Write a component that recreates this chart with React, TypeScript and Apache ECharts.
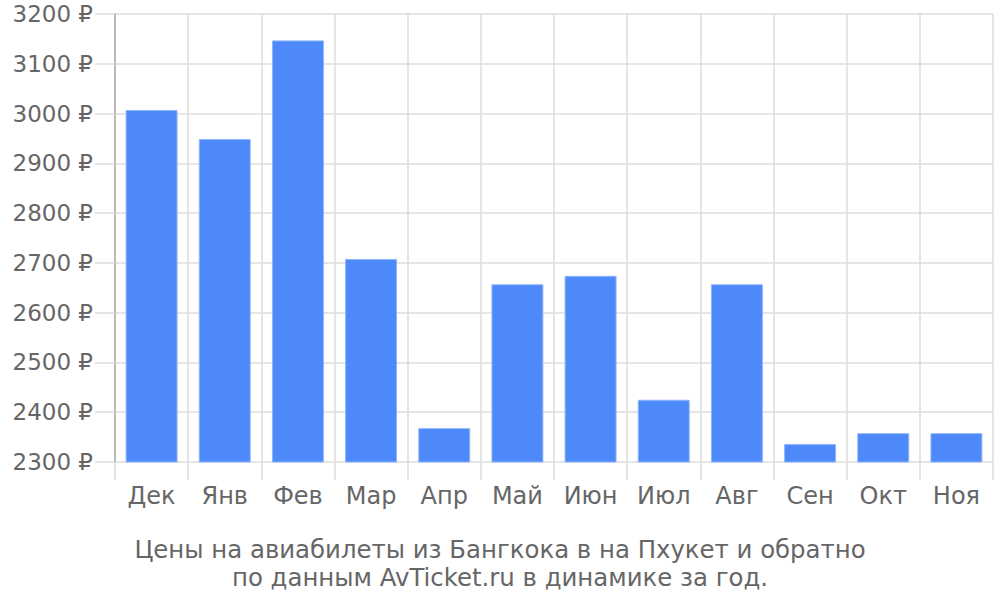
import React, { useEffect, useRef } from "react";
import * as echarts from "echarts";

const categories = ["Дек", "Янв", "Фев", "Мар", "Апр", "Май", "Июн", "Июл", "Авг", "Сен", "Окт", "Ноя"];
const prices = [3007, 2949, 3147, 2708, 2368, 2657, 2674, 2425, 2657, 2336, 2358, 2358];
const titleText = "Цены на авиабилеты из Бангкока в на Пхукет и обратно\nпо данным AvTicket.ru в динамике за год.";

export default function App() {
  const ref = useRef<HTMLDivElement>(null);
  useEffect(() => {
    if (!ref.current) return;
    const chart = echarts.init(ref.current, null, { renderer: "svg" });
    const font = "DejaVu Sans";
    chart.setOption({
      animation: false,
      textStyle: { fontFamily: font },
      graphic: [
        {
          type: "text",
          x: 500,
          y: 535,
          style: {
            text: titleText,
            fontFamily: font,
            fontSize: 24.4,
            fill: "#666",
            lineHeight: 28,
            align: "center",
            verticalAlign: "top",
          },
        },
      ],
      grid: { left: 115, right: 7, top: 14, bottom: 138, containLabel: false },
      xAxis: {
        type: "category",
        data: categories,
        boundaryGap: true,
        axisLine: { show: false },
        axisTick: { show: true, length: 18, lineStyle: { color: "#ddd", width: 1.5 } },
        axisLabel: { fontFamily: font, fontSize: 24, color: "#666", margin: 22 },
        splitLine: { show: true, lineStyle: { color: "#ddd", width: 1.5 } },
      },
      yAxis: {
        type: "value",
        min: 2300,
        max: 3200,
        interval: 100,
        axisLine: { show: true, lineStyle: { color: "#aaa", width: 1.5 } },
        axisTick: { show: true, length: 20, lineStyle: { color: "#ddd", width: 1.5 } },
        axisLabel: {
          fontFamily: font,
          fontSize: 23,
          color: "#666",
          margin: 22,
          formatter: (v: number) => `${v} ₽`,
        },
        splitLine: { show: true, lineStyle: { color: "#ddd", width: 1.5 } },
      },
      series: [
        {
          type: "bar",
          data: prices,
          barWidth: "71%",
          itemStyle: { color: "#4d89f9", borderColor: "#8fb4fb", borderWidth: 1 },
        },
      ],
    });
    return () => chart.dispose();
  }, []);
  return <div ref={ref} style={{ width: 1000, height: 600, position: "absolute", left: 0, top: 0 }} />;
}
